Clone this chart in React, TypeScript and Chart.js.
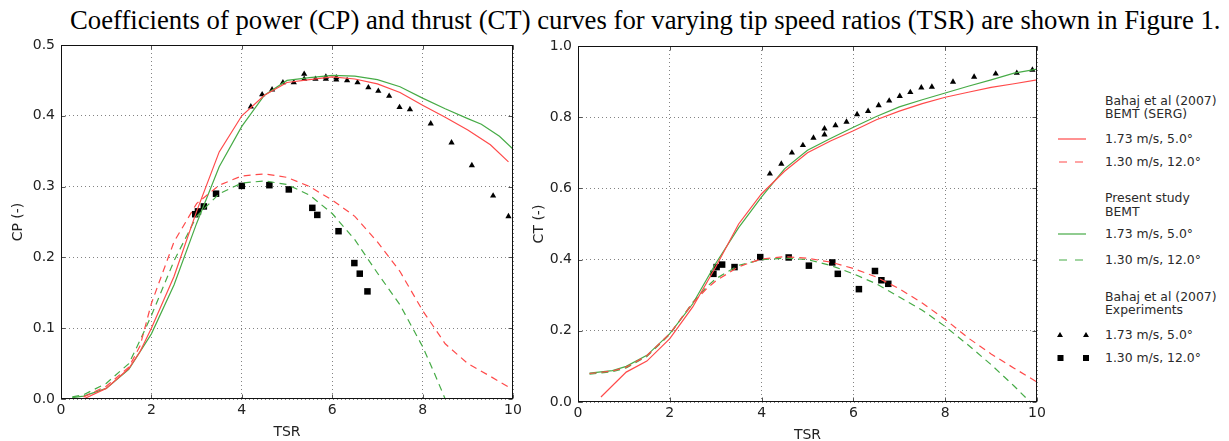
import React, { useEffect, useRef } from "react";
import { Chart, registerables } from "chart.js";

Chart.register(...registerables);

// ---------- tick labels ----------
const tsrTicks = [0, 2, 4, 6, 8, 10];
const cpTicks = [0, 0.1, 0.2, 0.3, 0.4, 0.5];
const ctTicks = [0, 0.2, 0.4, 0.6, 0.8, 1.0];

// ---------- CP curves ----------
const cpSergSolidX = [0.5, 1, 1.5, 1.75, 2, 2.5, 3, 3.5, 4, 4.5, 5, 5.5, 6, 6.5, 7, 7.5, 8, 8.5, 9, 9.5, 9.9];
const cpSergSolidY = [0, 0.015, 0.043, 0.067, 0.1, 0.173, 0.265, 0.349, 0.4, 0.429, 0.447, 0.451, 0.455, 0.452, 0.445, 0.433, 0.415, 0.398, 0.38, 0.359, 0.335];
const cpSergDashX = [0.5, 1, 1.5, 1.75, 2, 2.5, 3, 3.5, 4, 4.5, 5, 5.5, 6, 6.5, 7, 7.5, 8, 8.5, 9, 9.5, 9.9];
const cpSergDashY = [0.003, 0.018, 0.045, 0.075, 0.135, 0.222, 0.276, 0.302, 0.315, 0.318, 0.313, 0.3, 0.281, 0.258, 0.222, 0.18, 0.125, 0.078, 0.05, 0.032, 0.017];
const cpStudySolidX = [0.25, 0.5, 1, 1.5, 2, 2.5, 3, 3.5, 4, 4.5, 5, 5.5, 6, 6.5, 7, 7.5, 8, 8.5, 9, 9.3, 9.7, 10];
const cpStudySolidY = [0.002, 0.004, 0.015, 0.042, 0.092, 0.161, 0.248, 0.328, 0.385, 0.429, 0.45, 0.454, 0.457, 0.456, 0.451, 0.441, 0.425, 0.41, 0.396, 0.388, 0.371, 0.353];
const cpStudyDashX = [0.25, 0.5, 1, 1.5, 1.75, 2, 2.5, 3, 3.5, 4, 4.5, 5, 5.5, 6, 6.5, 7, 7.5, 8, 8.25, 8.5];
const cpStudyDashY = [0.003, 0.006, 0.022, 0.05, 0.083, 0.118, 0.195, 0.258, 0.29, 0.305, 0.308, 0.303, 0.288, 0.262, 0.225, 0.178, 0.133, 0.074, 0.038, 0.0];
const cpExpHighX = [4.2, 4.45, 4.67, 4.91, 5.15, 5.38, 5.38, 5.63, 5.86, 5.86, 6.09, 6.09, 6.33, 6.56, 6.8, 7.02, 7.26, 7.49, 7.72, 8.18, 8.64, 9.09, 9.56, 9.9];
const cpExpHighY = [0.413, 0.43, 0.437, 0.447, 0.447, 0.459, 0.452, 0.452, 0.455, 0.452, 0.454, 0.451, 0.45, 0.447, 0.44, 0.435, 0.428, 0.412, 0.409, 0.389, 0.362, 0.33, 0.287, 0.258];
const cpExpLowX = [2.97, 3.03, 3.16, 3.43, 4.0, 4.61, 5.04, 5.56, 5.67, 6.14, 6.49, 6.61, 6.78];
const cpExpLowY = [0.261, 0.265, 0.272, 0.29, 0.301, 0.302, 0.296, 0.27, 0.26, 0.237, 0.192, 0.177, 0.152];

// ---------- CT curves ----------
const ctSergSolidX = [0.5, 1.05, 1.5, 2, 2.5, 3, 3.5, 4, 4.5, 5, 5.5, 6, 6.5, 7, 7.5, 8, 8.5, 9, 9.5, 10];
const ctSergSolidY = [0.014, 0.084, 0.115, 0.178, 0.267, 0.379, 0.5, 0.585, 0.648, 0.7, 0.733, 0.762, 0.793, 0.817, 0.838, 0.856, 0.87, 0.884, 0.894, 0.905];
const ctSergDashX = [0.25, 0.75, 1.05, 1.5, 2, 2.5, 2.8, 3, 3.5, 4, 4.5, 5, 5.5, 6, 6.5, 7, 7.5, 8, 8.5, 9, 9.5, 10];
const ctSergDashY = [0.08, 0.087, 0.098, 0.13, 0.192, 0.278, 0.318, 0.34, 0.38, 0.402, 0.408, 0.404, 0.393, 0.375, 0.351, 0.318, 0.278, 0.232, 0.18, 0.135, 0.095, 0.056];
const ctStudySolidX = [0.25, 0.75, 1.05, 1.5, 2, 2.5, 3, 3.5, 4, 4.5, 5, 5.5, 6, 6.5, 7, 7.5, 8, 8.5, 9, 9.5, 10];
const ctStudySolidY = [0.081, 0.088, 0.1, 0.131, 0.192, 0.276, 0.389, 0.49, 0.576, 0.655, 0.707, 0.74, 0.772, 0.802, 0.829, 0.849, 0.868, 0.887, 0.905, 0.924, 0.935];
const ctStudyDashX = [0.25, 0.75, 1.05, 1.5, 2, 2.5, 2.8, 3, 3.5, 4, 4.5, 5, 5.5, 6, 6.5, 7, 7.5, 8, 8.5, 9, 9.5, 9.85];
const ctStudyDashY = [0.078, 0.085, 0.096, 0.128, 0.19, 0.28, 0.323, 0.346, 0.384, 0.4, 0.404, 0.4, 0.384, 0.36, 0.332, 0.295, 0.258, 0.212, 0.16, 0.105, 0.045, 0.0];
const ctExpHighX = [4.18, 4.43, 4.66, 4.9, 5.13, 5.37, 5.37, 5.61, 5.85, 6.08, 6.32, 6.55, 6.78, 7.01, 7.24, 7.48, 7.71, 8.17, 8.63, 9.1, 9.56, 9.9];
const ctExpHighY = [0.641, 0.669, 0.7, 0.721, 0.742, 0.768, 0.751, 0.777, 0.787, 0.808, 0.817, 0.833, 0.846, 0.859, 0.87, 0.883, 0.885, 0.899, 0.913, 0.922, 0.924, 0.933];
const ctExpLowX = [2.95, 3.02, 3.14, 3.41, 3.97, 4.59, 5.03, 5.54, 5.66, 6.12, 6.47, 6.61, 6.76];
const ctExpLowY = [0.36, 0.379, 0.386, 0.379, 0.407, 0.406, 0.383, 0.392, 0.36, 0.317, 0.368, 0.342, 0.332];

// ---------- legend labels ----------
const legendGroups = ["Bahaj et al (2007)|BEMT (SERG)", "Present study|BEMT", "Bahaj et al (2007)|Experiments"];
const legendRuns = ["1.73 m/s, 5.0°", "1.30 m/s, 12.0°"];

const TITLE = "Coefficients of power (CP) and thrust (CT) curves for varying tip speed ratios (TSR) are shown in Figure 1.";

const RED = "#ff4a4a";
const GREEN = "#46ab46";
const DASH = [7, 5];
const SANS = "'DejaVu Sans', sans-serif";

const pts = (xs: number[], ys: number[]) => xs.map((x, i) => ({ x, y: ys[i] }));

const lineSet = (xs: number[], ys: number[], color: string, dashed: boolean) => ({
  data: pts(xs, ys),
  showLine: true,
  borderColor: color,
  borderWidth: 1.2,
  borderDash: dashed ? DASH : [],
  pointRadius: 0,
  fill: false,
  tension: 0,
});

const markerSet = (xs: number[], ys: number[], style: string, r: number) => ({
  data: pts(xs, ys),
  showLine: false,
  pointStyle: style,
  pointRadius: r,
  backgroundColor: "#000",
  borderColor: "#000",
  borderWidth: 0,
});

const framePlugin = {
  id: "frame",
  afterDraw(chart: any) {
    const { ctx, chartArea: a, scales } = chart;
    ctx.save();
    const L = Math.round(a.left) + 0.5;
    const R = Math.round(a.right) - 0.5;
    const T = Math.round(a.top) + 0.5;
    const B = Math.round(a.bottom) - 0.5;
    ctx.strokeStyle = "#555";
    ctx.lineWidth = 1;
    ctx.beginPath();
    scales.x.ticks.forEach((t: any) => {
      const p = Math.round(scales.x.getPixelForValue(t.value)) + 0.5;
      ctx.moveTo(p, B);
      ctx.lineTo(p, B - 4);
      ctx.moveTo(p, T);
      ctx.lineTo(p, T + 4);
    });
    scales.y.ticks.forEach((t: any) => {
      const p = Math.round(scales.y.getPixelForValue(t.value)) + 0.5;
      ctx.moveTo(L, p);
      ctx.lineTo(L + 4, p);
      ctx.moveTo(R, p);
      ctx.lineTo(R - 4, p);
    });
    ctx.stroke();
    ctx.strokeStyle = "#111";
    ctx.strokeRect(L, T, R - L, B - T);
    ctx.restore();
  },
};

type Cfg = {
  datasets: any[];
  yTicks: number[];
  yTitle: string;
  pad: { top: number; right: number };
  yWidth: number;
  xHeight: number;
  xTitlePad: number;
  yTitlePad: number;
};

function buildOptions(c: Cfg) {
  const tickFont = { family: SANS, size: 14 };
  return {
    animation: false,
    responsive: false,
    maintainAspectRatio: false,
    layout: { padding: { left: 0, top: c.pad.top, right: c.pad.right, bottom: 0 } },
    plugins: { legend: { display: false }, tooltip: { enabled: false } },
    scales: {
      x: {
        type: "linear",
        min: tsrTicks[0],
        max: tsrTicks[tsrTicks.length - 1],
        afterBuildTicks: (s: any) => {
          s.ticks = tsrTicks.map((v) => ({ value: v }));
        },
        afterFit: (s: any) => {
          s.height = c.xHeight;
        },
        ticks: { font: tickFont, color: "#222", padding: 3, maxRotation: 0, callback: (v: any) => String(v) },
        grid: { color: "rgba(90,90,90,0.75)", lineWidth: 1, drawTicks: false },
        border: { display: false, dash: [1, 3] },
        title: { display: true, text: "TSR", font: { family: SANS, size: 14 }, color: "#222", padding: { top: 0, bottom: c.xTitlePad } },
      },
      y: {
        type: "linear",
        min: c.yTicks[0],
        max: c.yTicks[c.yTicks.length - 1],
        afterBuildTicks: (s: any) => {
          s.ticks = c.yTicks.map((v) => ({ value: v }));
        },
        afterFit: (s: any) => {
          s.width = c.yWidth;
        },
        ticks: { font: tickFont, color: "#222", padding: 6, callback: (v: any) => Number(v).toFixed(1) },
        grid: { color: "rgba(90,90,90,0.75)", lineWidth: 1, drawTicks: false },
        border: { display: false, dash: [1, 3] },
        title: { display: true, text: c.yTitle, font: { family: SANS, size: 14 }, color: "#222", padding: { top: c.yTitlePad, bottom: 0 } },
      },
    },
  };
}

function ChartBox({ cfg, left, top, width, height }: { cfg: Cfg; left: number; top: number; width: number; height: number }) {
  const ref = useRef<HTMLCanvasElement | null>(null);
  useEffect(() => {
    if (!ref.current) return;
    const chart = new Chart(ref.current, {
      type: "scatter",
      data: { datasets: cfg.datasets },
      options: buildOptions(cfg) as any,
      plugins: [framePlugin],
    } as any);
    return () => chart.destroy();
  }, []);
  return <canvas ref={ref} width={width} height={height} style={{ position: "absolute", left, top, width, height }} />;
}

const cpCfg: Cfg = {
  datasets: [
    lineSet(cpSergSolidX, cpSergSolidY, RED, false),
    lineSet(cpSergDashX, cpSergDashY, RED, true),
    lineSet(cpStudySolidX, cpStudySolidY, GREEN, false),
    lineSet(cpStudyDashX, cpStudyDashY, GREEN, true),
    markerSet(cpExpHighX, cpExpHighY, "triangle", 3.6),
    markerSet(cpExpLowX, cpExpLowY, "rect", 4.6),
  ],
  yTicks: cpTicks,
  yTitle: "CP (-)",
  pad: { top: 15, right: 17 },
  yWidth: 61,
  xHeight: 42,
  xTitlePad: 0.6,
  yTitlePad: 10,
};

const ctCfg: Cfg = {
  datasets: [
    lineSet(ctSergSolidX, ctSergSolidY, RED, false),
    lineSet(ctSergDashX, ctSergDashY, RED, true),
    lineSet(ctStudySolidX, ctStudySolidY, GREEN, false),
    lineSet(ctStudyDashX, ctStudyDashY, GREEN, true),
    markerSet(ctExpHighX, ctExpHighY, "triangle", 3.6),
    markerSet(ctExpLowX, ctExpLowY, "rect", 4.6),
  ],
  yTicks: ctTicks,
  yTitle: "CT (-)",
  pad: { top: 16, right: 13 },
  yWidth: 48,
  xHeight: 43,
  xTitlePad: 1.6,
  yTitlePad: 0.6,
};

const textStyle = (top: number): React.CSSProperties => ({
  position: "absolute",
  left: 1105,
  top: top - 7,
  height: 14,
  lineHeight: "14px",
  fontFamily: SANS,
  fontSize: 12.4,
  color: "#2a2a2a",
  whiteSpace: "nowrap",
});

function Sample({ y, kind, color }: { y: number; kind: string; color: string }) {
  return (
    <svg width={34} height={12} style={{ position: "absolute", left: 1056, top: y - 6 }}>
      {kind === "solid" && <line x1={2} y1={6} x2={30} y2={6} stroke={color} strokeWidth={1.2} />}
      {kind === "dash" && <line x1={3} y1={6} x2={27} y2={6} stroke={color} strokeWidth={1.2} strokeDasharray="8 8" />}
      {kind === "tri" && (
        <g fill="#000">
          <polygon points="4,3 7,8 1,8" />
          <polygon points="30,3 33,8 27,8" />
        </g>
      )}
      {kind === "sq" && (
        <g fill="#000">
          <rect x={1.5} y={3} width={6} height={6} />
          <rect x={27} y={3} width={6} height={6} />
        </g>
      )}
    </svg>
  );
}

export default function App() {
  const groupY = [
    [101, 114],
    [198, 212],
    [297, 310],
  ];
  const rowY = [
    [139, 162],
    [234, 260],
    [335, 358],
  ];
  const kinds = [
    ["solid", "dash", RED],
    ["solid", "dash", GREEN],
    ["tri", "sq", "#000"],
  ];
  return (
    <div style={{ position: "fixed", left: 0, top: 0, width: 1229, height: 441, overflow: "hidden", background: "#fff" }}>
      <div
        style={{
          position: "absolute",
          left: 70,
          top: 5,
          lineHeight: "30px",
          fontFamily: "'Liberation Serif', 'Times New Roman', serif",
          fontSize: 26.7,
          color: "#000",
          whiteSpace: "nowrap",
        }}
      >
        {TITLE}
      </div>
      <ChartBox cfg={cpCfg} left={0} top={30} width={530} height={411} />
      <ChartBox cfg={ctCfg} left={530} top={30} width={520} height={415} />
      {legendGroups.map((g, gi) => (
        <React.Fragment key={gi}>
          {g.split("|").map((line, li) => (
            <div key={li} style={textStyle(groupY[gi][li])}>
              {line}
            </div>
          ))}
          {legendRuns.map((run, ri) => (
            <React.Fragment key={"r" + ri}>
              <Sample y={rowY[gi][ri]} kind={kinds[gi][ri] as string} color={kinds[gi][2] as string} />
              <div style={textStyle(rowY[gi][ri])}>{run}</div>
            </React.Fragment>
          ))}
        </React.Fragment>
      ))}
    </div>
  );
}
